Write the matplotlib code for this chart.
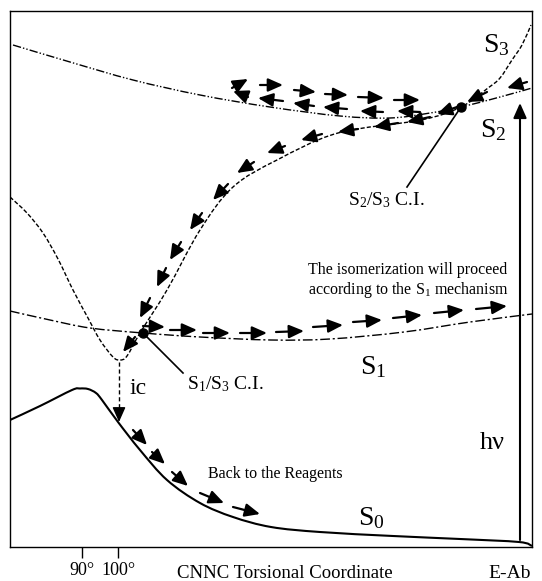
import numpy as np
import matplotlib
matplotlib.use("Agg")
import matplotlib.pyplot as plt
from matplotlib.path import Path
from matplotlib.patches import PathPatch

plt.rcParams["font.family"] = ["Liberation Serif", "DejaVu Serif"]
plt.rcParams["mathtext.fontset"] = "custom"
plt.rcParams["mathtext.rm"] = "Liberation Serif"
plt.rcParams["mathtext.it"] = "Liberation Serif:italic"

# --- potential energy curves (schematic units: torsion coordinate, energy) ---
s0_x = [0, 30, 62, 70, 78, 86, 92, 108, 130, 157, 190, 223, 261, 310, 383, 450, 509, 522]
s0_y = [127, 141, 157, 158.5, 158, 154, 147, 125, 97, 67, 44, 30, 20, 15, 11, 8, 5, 1]

s1_x = [0, 40, 80, 133, 190, 261, 320, 394, 460, 522]
s1_y = [236, 227, 219, 214, 210, 207, 208, 215, 225, 233]

s2_x = [3, 60, 123, 190, 260, 330, 380, 420, 451, 490, 522]
s2_y = [502, 485, 467, 452, 440, 431, 429, 434, 440, 450, 459]

s3_x = [0, 17, 33, 48, 63, 78, 90, 103, 110, 117, 130, 157, 190, 223, 267, 328, 411, 451,
        478, 490, 502, 512, 521]
s3_y = [350, 334, 314, 288, 257, 229, 207, 190, 187, 191, 214, 257, 317, 360, 387, 414, 427, 440,
        459, 469, 487, 502, 522]

# conical intersections
ci_x = [133, 451]
ci_y = [214, 440]

# --- reaction path arrows (tail x, tail y, head x, head y) ---
s1_path_x0 = [133, 160, 193, 230, 266, 303, 343, 383, 424, 466]
s1_path_y0 = [221, 217, 214, 214, 215, 220, 225, 229, 234, 238]
s1_path_x1 = [155, 187, 220, 257, 294, 333, 372, 412, 454, 497]
s1_path_y1 = [220, 217, 214, 214, 216, 222, 227, 232, 237, 241]

s3_path_x0 = [517, 477, 447, 420, 388, 348, 312, 275, 244, 218, 192, 171, 156, 140, 125]
s3_path_y0 = [465, 455, 440, 430, 424, 418, 413, 401, 385, 363, 334, 305, 279, 249, 210]
s3_path_x1 = [497, 457, 427, 397, 364, 328, 291, 257, 227, 203, 180, 160, 147, 130, 113]
s3_path_y1 = [459, 445, 433, 425, 420, 415, 407, 394, 374, 347, 317, 287, 260, 229, 195]

loop_top_x0 = [222, 250, 284, 315, 348, 384]
loop_top_y0 = [459, 462, 457, 453, 450, 447]
loop_top_x1 = [238, 273, 306, 338, 374, 410]
loop_top_y1 = [468, 462, 455, 452, 449, 447]

loop_bot_x0 = [238, 273, 304, 337, 373, 410]
loop_bot_y0 = [450, 446, 441, 438, 435, 435]
loop_bot_x1 = [223, 248, 283, 313, 350, 387]
loop_bot_y1 = [456, 449, 444, 440, 436, 436]

back_x0 = [123, 142, 162, 190, 223]
back_y0 = [117, 95, 75, 54, 40]
back_x1 = [137, 155, 178, 214, 250]
back_y1 = [102, 83, 61, 44, 33]

ic_x = 109
ic_y = [185, 125]
hv_x = 510
hv_y = [7, 444]

tick_pos = [72, 108]
tick_lab = ["90°", "100°"]

HEAD = "-|>,head_length=0.9,head_width=0.4"


def smooth_curve(ax, xs, ys, **kw):
    # Catmull-Rom through the read points, drawn as cubic Bezier segments
    p = np.column_stack([xs, ys]).astype(float)
    pts = [p[0]]
    codes = [Path.MOVETO]
    n = len(p)
    for i in range(n - 1):
        p0 = p[i - 1] if i > 0 else p[i]
        p3 = p[i + 2] if i + 2 < n else p[i + 1]
        c1 = p[i] + (p[i + 1] - p0) / 6.0
        c2 = p[i + 1] - (p3 - p[i]) / 6.0
        pts += [c1, c2, p[i + 1]]
        codes += [Path.CURVE4] * 3
    ax.add_patch(PathPatch(Path(pts, codes), fill=False, **kw))


def draw_arrows(ax, x0, y0, x1, y1):
    for a, b, c, d in zip(x0, y0, x1, y1):
        ax.annotate("", xy=(c, d), xytext=(a, b),
                    arrowprops=dict(arrowstyle=HEAD, color="k", lw=1.6,
                                    shrinkA=0, shrinkB=0))


fig = plt.figure(figsize=(5.42, 5.81), dpi=100)
ax = fig.add_axes([10 / 542, 34 / 581, 522 / 542, 536 / 581])
ax.set_xlim(0, 522)
ax.set_ylim(0, 536)

smooth_curve(ax, s0_x, s0_y, color="k", lw=1.5)
smooth_curve(ax, s1_x, s1_y, color="k", lw=1.0, linestyle=(0, (7, 2, 1.5, 2)))
smooth_curve(ax, s2_x, s2_y, color="k", lw=1.0, linestyle=(0, (6, 1.5, 1, 1.5, 1, 1.5)))
smooth_curve(ax, s3_x, s3_y, color="k", lw=1.0, linestyle=(0, (3, 1.5)))
ax.plot(ci_x, ci_y, "o", color="k", ms=6.5)

draw_arrows(ax, s1_path_x0, s1_path_y0, s1_path_x1, s1_path_y1)
draw_arrows(ax, s3_path_x0, s3_path_y0, s3_path_x1, s3_path_y1)
draw_arrows(ax, loop_top_x0, loop_top_y0, loop_top_x1, loop_top_y1)
draw_arrows(ax, loop_bot_x0, loop_bot_y0, loop_bot_x1, loop_bot_y1)
draw_arrows(ax, back_x0, back_y0, back_x1, back_y1)

# internal conversion (dashed, vertical)
ax.plot([ic_x, ic_x], [ic_y[0], ic_y[1] + 10], color="k", lw=1.0, linestyle=(0, (3, 2)))
ax.annotate("", xy=(ic_x, ic_y[1]), xytext=(ic_x, ic_y[1] + 12),
            arrowprops=dict(arrowstyle=HEAD, color="k", lw=1.0, shrinkA=0, shrinkB=0))

# vertical excitation
ax.annotate("", xy=(hv_x, hv_y[1]), xytext=(hv_x, hv_y[0]),
            arrowprops=dict(arrowstyle=HEAD, color="k", lw=1.5, shrinkA=0, shrinkB=0))

# CI pointer lines
ax.plot([ci_x[1], 397], [ci_y[1], 360], color="k", lw=1.2)
ax.plot([ci_x[0], 173], [ci_y[0], 174], color="k", lw=1.2)

# labels
big = 20
ax.text(486, 502, r"$\mathregular{S_3}$", fontsize=big, ha="center", va="center")
ax.text(483, 417, r"$\mathregular{S_2}$", fontsize=big, ha="center", va="center")
ax.text(363, 180, r"$\mathregular{S_1}$", fontsize=big, ha="center", va="center")
ax.text(361, 29, r"$\mathregular{S_0}$", fontsize=big, ha="center", va="center")
ax.text(482, 104, "hν", fontsize=19, ha="center", va="center")
ax.text(120, 159, "ic", fontsize=17, ha="left", va="center")
ax.text(177, 163, r"$\mathregular{S_1/S_3}$ C.I.", fontsize=14, ha="left", va="center")
ax.text(338, 347, r"$\mathregular{S_2/S_3}$ C.I.", fontsize=14, ha="left", va="center")
ax.text(398, 266, "The isomerization will proceed\naccording to the $\\mathregular{S_1}$ mechanism",
        fontsize=11.5, ha="center", va="center", linespacing=1.15)
ax.text(265, 73, "Back to the Reagents", fontsize=11.5, ha="center", va="center")

ax.set_yticks([])
ax.set_xticks(tick_pos)
ax.set_xticklabels(tick_lab)
ax.tick_params(axis="x", direction="out", length=8, width=1, pad=3, labelsize=13)
for sp in ax.spines.values():
    sp.set_linewidth(1.0)

ax.text(0.527, -0.05, "CNNC Torsional Coordinate", transform=ax.transAxes,
        fontsize=13.5, ha="center", va="center")
ax.text(0.958, -0.05, "E-Ab", transform=ax.transAxes, fontsize=14, ha="center", va="center")

fig.savefig("out.png", dpi=100)
